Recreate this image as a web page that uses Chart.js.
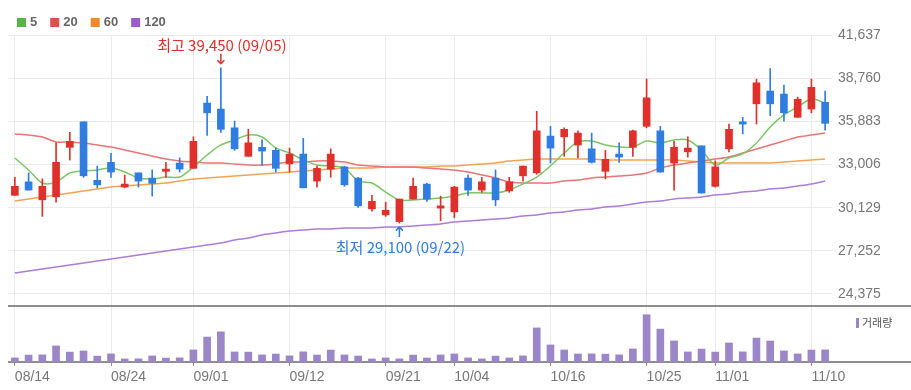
<!DOCTYPE html>
<html lang="ko">
<head>
<meta charset="utf-8">
<title>주가 차트</title>
<script src="https://cdn.jsdelivr.net/npm/chart.js@4.4.1/dist/chart.umd.min.js"></script>
<style>
  html, body { margin: 0; padding: 0; background: #fff; }
  #chart_box { position: relative; width: 911px; height: 390px; }
</style>
</head>
<body>
<div id="chart_box"><canvas id="stock_chart"></canvas></div>
<script>
const dates = ['08/14','08/16','08/17','08/18','08/21','08/22','08/23','08/24','08/25','08/28',
  '08/29','08/30','08/31','09/01','09/04','09/05','09/06','09/07','09/08','09/11',
  '09/12','09/13','09/14','09/15','09/18','09/19','09/20','09/21','09/22','09/25',
  '09/26','09/27','10/04','10/05','10/06','10/10','10/11','10/12','10/13','10/16',
  '10/17','10/18','10/19','10/20','10/23','10/24','10/25','10/26','10/27','10/30',
  '10/31','11/01','11/02','11/03','11/06','11/07','11/08','11/09','11/10','11/13'];

const opens = [30950, 31850, 30650, 30850, 34150, 35850, 31950, 33150, 31500, 32450,
  32100, 32550, 33100, 32750, 37100, 36700, 35450, 33550, 34150, 33950,
  33050, 33700, 31900, 32700, 32850, 32100, 30050, 29650, 29200, 30700,
  31700, 30100, 29850, 32100, 31300, 32100, 31250, 32250, 32450, 34900,
  34850, 34300, 34050, 32550, 33700, 34150, 35550, 35250, 33100, 33850,
  34250, 31550, 34050, 35850, 37050, 37900, 37700, 36150, 36700, 37150];
const highs = [32150, 32450, 32050, 34450, 35150, 35850, 32900, 33750, 32300, 32450,
  32650, 33150, 33450, 34850, 37550, 39450, 35900, 35350, 34650, 34100,
  34100, 34750, 32900, 34050, 32900, 32150, 30950, 30500, 30700, 32100,
  31750, 30900, 31550, 32300, 32150, 32650, 32150, 32900, 36550, 35550,
  35450, 35250, 35100, 33950, 34450, 35300, 38700, 35550, 34550, 34850,
  34250, 33250, 35700, 36150, 38700, 39400, 38300, 37500, 38700, 37900];
const lows = [30950, 31300, 29550, 30500, 33300, 32150, 31450, 32150, 31450, 31500,
  30900, 32150, 32500, 32750, 34950, 35150, 33950, 33550, 32950, 32500,
  32500, 31450, 31500, 32150, 31550, 30150, 29900, 29550, 29100, 30700,
  30550, 29250, 29450, 30950, 31150, 30250, 31150, 31900, 32350, 33100,
  33550, 33450, 33100, 32050, 33150, 33550, 35450, 32500, 31300, 33500,
  31100, 31500, 33850, 35050, 35700, 36250, 35900, 36150, 36450, 35300];
const closes = [31550, 31300, 31550, 33150, 34550, 32250, 31650, 32500, 31700, 31900,
  31750, 32700, 32700, 34550, 36450, 35350, 34050, 34450, 33900, 32750,
  33700, 31450, 32750, 33700, 31650, 30250, 30550, 29950, 30700, 31550,
  30700, 30250, 31500, 31300, 31850, 30650, 31850, 32900, 35250, 34100,
  35350, 35100, 33150, 33350, 33500, 35250, 37450, 32500, 34150, 34100,
  31100, 32850, 35350, 35700, 38450, 37050, 36450, 37350, 38150, 35750];
const volumes = [121000, 208000, 214000, 482000, 297000, 331000, 176000, 243000, 92000, 95000,
  181000, 118000, 124000, 362000, 748000, 905000, 301000, 296000, 213000, 238000,
  183000, 305000, 209000, 358000, 212000, 179000, 91000, 122000, 94000, 207000,
  119000, 211000, 241000, 123000, 93000, 178000, 121000, 184000, 1023000, 512000,
  361000, 239000, 244000, 236000, 214000, 392000, 1418000, 987000, 632000, 302000,
  388000, 297000, 571000, 304000, 718000, 629000, 333000, 241000, 359000, 364000];

const ma5 = [33440, 32640, 31770, 31840, 32440, 32570, 32640, 32770, 32510, 32110,
  32040, 32170, 32170, 32840, 33640, 34310, 34640, 34970, 34840, 34110,
  33770, 33310, 32970, 32910, 32770, 31910, 31770, 31170, 30640, 30640,
  30710, 30770, 30910, 31110, 31110, 31110, 31310, 31710, 32170, 32910,
  33770, 34510, 34570, 34310, 34170, 34170, 34570, 34440, 34640, 34640,
  33970, 32970, 33440, 33710, 34440, 35510, 36310, 36840, 37370, 37110];
const ma20 = [35040, 34970, 34840, 34510, 34510, 34440, 34310, 34170, 33970, 33770,
  33570, 33370, 33240, 33170, 33110, 33110, 33040, 32970, 32970, 33040,
  33170, 33170, 33240, 33240, 33170, 32970, 32910, 32840, 32840, 32840,
  32770, 32710, 32640, 32510, 32310, 32110, 31840, 31770, 31770, 31770,
  31910, 31970, 32110, 32170, 32240, 32310, 32440, 32770, 32970, 33110,
  33240, 33370, 33510, 33770, 34040, 34310, 34570, 34840, 34970, 35110];
const ma60 = [30570, 30710, 30840, 30970, 31110, 31240, 31370, 31510, 31570, 31640,
  31710, 31770, 31910, 32040, 32110, 32170, 32240, 32310, 32370, 32440,
  32510, 32570, 32640, 32710, 32770, 32770, 32770, 32840, 32840, 32840,
  32840, 32910, 32910, 32970, 33040, 33110, 33240, 33310, 33370, 33370,
  33370, 33370, 33370, 33310, 33310, 33310, 33310, 33310, 33310, 33240,
  33170, 33110, 33110, 33110, 33110, 33110, 33170, 33240, 33310, 33370];
const ma120 = [25770, 25910, 26040, 26170, 26310, 26440, 26570, 26710, 26840, 26970,
  27110, 27240, 27370, 27510, 27640, 27770, 27970, 28110, 28310, 28440,
  28570, 28640, 28710, 28710, 28770, 28770, 28770, 28840, 28840, 28910,
  28970, 29040, 29170, 29240, 29310, 29370, 29440, 29570, 29640, 29770,
  29840, 29970, 30040, 30170, 30240, 30370, 30510, 30570, 30710, 30770,
  30840, 30970, 31040, 31170, 31240, 31370, 31440, 31570, 31710, 31910];

const priceTicks = [24375, 27252, 30129, 33006, 35883, 38760, 41637];
const dateTicks = ['08/14','08/24','09/01','09/12','09/21','10/04','10/16','10/25','11/01','11/10'];
const maLabels = ['5', '20', '60', '120'];

const upColor = '#e0302b';
const downColor = '#2f7de1';
const volColor = '#9b86c7';
const maLineColors = ['#7cc566', '#ec7474', '#f4a352', '#ad7bd8'];
const maBoxColors = ['#55b445', '#e64c4c', '#f08a24', '#9a5bcf'];

const candleColors = closes.map((c, i) => c >= opens[i] ? upColor : downColor);
const fmt = v => v.toLocaleString('en-US');

function drawArrow(ctx, x, from, to) {
  const dir = to > from ? 1 : -1;
  ctx.beginPath();
  ctx.moveTo(x, from);
  ctx.lineTo(x, to);
  ctx.moveTo(x - 3.5, to - dir * 3.5);
  ctx.lineTo(x, to);
  ctx.lineTo(x + 3.5, to - dir * 3.5);
  ctx.stroke();
}

// separators, legends and high / low marks
const decor = {
  id: 'decor',
  beforeDatasetsDraw(chart) {
    const {ctx, chartArea, scales} = chart;
    ctx.save();
    ctx.strokeStyle = '#8e8e8e';
    ctx.lineWidth = 2;
    [scales.y.bottom, scales.yVol.bottom].forEach(y => {
      ctx.beginPath();
      ctx.moveTo(chartArea.left, y);
      ctx.lineTo(chart.width, y);
      ctx.stroke();
    });
    ctx.restore();
  },
  afterDraw(chart) {
    const {ctx, scales} = chart;
    ctx.save();

    ctx.textBaseline = 'middle';
    ctx.font = 'bold 13px "Liberation Sans", Arial, sans-serif';
    let lx = 17;
    maLabels.forEach((label, i) => {
      ctx.fillStyle = maBoxColors[i];
      ctx.fillRect(lx, 18, 9, 9);
      ctx.fillStyle = '#666';
      ctx.textAlign = 'left';
      ctx.fillText(label, lx + 13, 22.5);
      lx += 13 + ctx.measureText(label).width + 13;
    });

    ctx.fillStyle = volColor;
    ctx.fillRect(856, 318, 3, 10);
    ctx.fillStyle = '#555';
    ctx.font = '11px "Noto Sans CJK KR", sans-serif';
    ctx.fillText('거래량', 862, 323);

    const hiIdx = highs.indexOf(Math.max(...highs));
    const loIdx = lows.indexOf(Math.min(...lows));
    ctx.font = '15px "Noto Sans CJK KR", sans-serif';
    ctx.textAlign = 'center';
    ctx.lineWidth = 1.5;

    const hx = scales.x.getPixelForValue(hiIdx);
    const hy = scales.y.getPixelForValue(highs[hiIdx]);
    ctx.fillStyle = upColor;
    ctx.strokeStyle = upColor;
    ctx.fillText('최고 ' + fmt(highs[hiIdx]) + ' (' + dates[hiIdx] + ')', hx + 1, hy - 23);
    drawArrow(ctx, hx, hy - 14, hy - 4);

    const bx = scales.x.getPixelForValue(loIdx);
    const by = scales.y.getPixelForValue(lows[loIdx]);
    ctx.fillStyle = downColor;
    ctx.strokeStyle = downColor;
    ctx.fillText('최저 ' + fmt(lows[loIdx]) + ' (' + dates[loIdx] + ')', bx + 1, by + 24);
    drawArrow(ctx, bx, by + 14, by + 4);

    ctx.restore();
  }
};

const maData = [ma5, ma20, ma60, ma120];

new Chart(document.getElementById('stock_chart'), {
  data: {
    labels: dates,
    datasets: [
      {
        type: 'bar', label: 'body',
        data: opens.map((o, i) => [o, closes[i]]),
        backgroundColor: candleColors,
        barThickness: 7, minBarLength: 1, grouped: false,
        yAxisID: 'y', order: 0
      },
      {
        type: 'bar', label: 'wick',
        data: lows.map((l, i) => [l, highs[i]]),
        backgroundColor: candleColors,
        barThickness: 1, grouped: false,
        yAxisID: 'y', order: 1
      },
      {
        type: 'bar', label: '거래량',
        data: volumes,
        backgroundColor: volColor,
        barThickness: 7, grouped: false,
        yAxisID: 'yVol', order: 2
      },
      ...maData.map((d, i) => ({
        type: 'line', label: maLabels[i],
        data: d,
        borderColor: maLineColors[i],
        borderWidth: 1.5,
        pointRadius: 0,
        tension: 0.3,
        yAxisID: 'y', order: 3 + i
      }))
    ]
  },
  options: {
    responsive: true,
    maintainAspectRatio: false,
    animation: false,
    events: [],
    layout: { padding: { left: 8, top: 35, right: 0, bottom: 0 } },
    plugins: {
      legend: { display: false },
      tooltip: { enabled: false }
    },
    scales: {
      x: {
        type: 'category',
        offset: true,
        grid: {
          offset: false,
          color: ctx => dateTicks.includes(dates[ctx.index]) ? '#ebebeb' : 'rgba(0,0,0,0)',
          tickColor: ctx => dateTicks.includes(dates[ctx.index]) ? '#8e8e8e' : 'rgba(0,0,0,0)',
          tickLength: 4
        },
        border: { display: false },
        ticks: {
          autoSkip: false,
          maxRotation: 0,
          align: 'start',
          padding: 3,
          color: '#777',
          font: { family: '"Liberation Sans", Arial, sans-serif', size: 14 },
          callback: function (v) {
            const l = this.getLabelForValue(v);
            return dateTicks.includes(l) ? l : '';
          }
        },
        afterFit(scale) { scale.height = 28; }
      },
      y: {
        position: 'right',
        stack: 'price',
        stackWeight: 271,
        min: 23575,
        max: 41637,
        afterBuildTicks(scale) { scale.ticks = priceTicks.map(v => ({ value: v })); },
        afterFit(scale) { scale.width = 79; },
        grid: { color: '#ebebeb', drawTicks: false },
        border: { display: false },
        ticks: {
          padding: 6,
          color: '#777',
          font: { family: '"Liberation Sans", Arial, sans-serif', size: 14 },
          callback: v => fmt(v)
        }
      },
      yVol: {
        position: 'right',
        stack: 'price',
        stackWeight: 56,
        min: 0,
        max: 1680000,
        grid: { display: false },
        border: { display: false },
        ticks: { display: false }
      }
    }
  },
  plugins: [decor]
});
</script>
</body>
</html>
